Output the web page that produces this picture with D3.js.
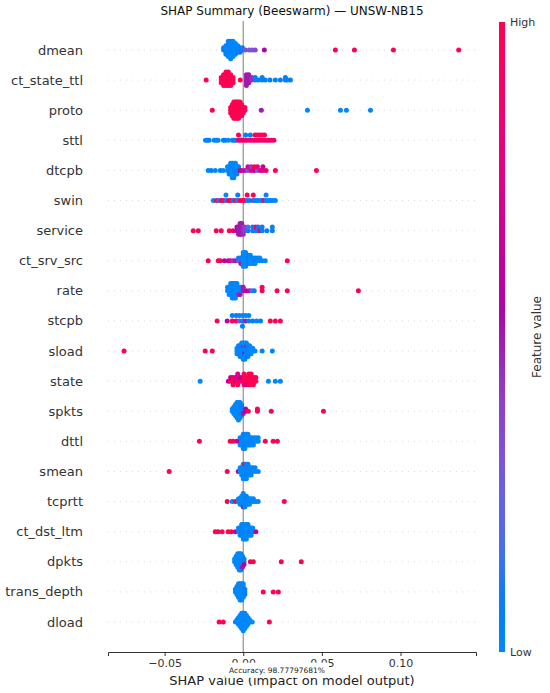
<!DOCTYPE html>
<html>
<head>
<meta charset="utf-8">
<script src="https://cdn.jsdelivr.net/npm/d3@7"></script>
<style>
  body { margin: 0; background: #fff; }
  text { font-family: "DejaVu Sans", sans-serif; }
</style>
</head>
<body>
<svg id="chart" width="550" height="693"></svg>
<script>
// feature order, top to bottom
const features = ["dmean", "ct_state_ttl", "proto", "sttl", "dtcpb", "swin", "service",
  "ct_srv_src", "rate", "stcpb", "sload", "state", "spkts", "dttl", "smean", "tcprtt",
  "ct_dst_ltm", "dpkts", "trans_depth", "dload"];

// each point: [shap value, normalised feature value 0..1]
const dmean = [
  [-0.0125,0.05],[-0.0125,0.1],
  [-0.011,0.05],[-0.011,0],[-0.011,0.05],[-0.011,0],[-0.011,0.05],
  [-0.0095,0],[-0.0095,0],[-0.0095,0.05],[-0.0095,0],[-0.0095,0],[-0.0095,0.05],[-0.0095,0],[-0.0095,0],
  [-0.008,0],[-0.008,0],[-0.008,0],[-0.008,0.05],[-0.008,0],[-0.008,0],[-0.008,0],[-0.008,0.05],[-0.008,0],
  [-0.0065,0],[-0.0065,0],[-0.0065,0.05],[-0.0065,0],[-0.0065,0],[-0.0065,0],[-0.0065,0],[-0.0065,0],
  [-0.005,0],[-0.005,0],[-0.005,0.05],[-0.005,0],[-0.005,0],[-0.005,0],
  [-0.0035,0.05],[-0.0035,0],[-0.0035,0.05],[-0.0035,0],
  [-0.002,0.1],[-0.002,0.05],[-0.002,0.1],
  [-0.0005,0.1],[-0.0005,0.1],
  [0.0013,0.3],[0.0038,0.3],[0.0057,0.3],[0.0076,0.35],[0.0134,0.55],
  [0.0586,1],[0.0707,1],[0.0955,1],[0.137,1]
];
const ct_state_ttl = [
  [-0.0236,1],
  [-0.014,1],[-0.014,1],[-0.014,1],
  [-0.0125,1],[-0.0125,1],[-0.0125,1],[-0.0125,1],[-0.0125,1],
  [-0.011,1],[-0.011,1],[-0.011,1],[-0.011,1],[-0.011,1],[-0.011,1],
  [-0.0095,1],[-0.0095,1],[-0.0095,1],[-0.0095,1],[-0.0095,1],[-0.0095,1],
  [-0.008,1],[-0.008,1],[-0.008,1],[-0.008,1],[-0.008,1],
  [-0.0065,1],[-0.0065,1],[-0.0065,1],
  [-0.0019,1],
  [0.002,0.5],[0.002,0.5],[0.002,0.5],[0.002,0.5],[0.002,0.5],
  [0.0035,0.5],[0.0035,0.5],[0.0035,0.5],[0.0035,0.5],
  [0.0055,0.45],[0.0055,0.45],
  [0.0076,0.1],[0.0076,0.05],[0.0095,0.05],[0.012,0.05],[0.012,0.05],[0.014,0.05],
  [0.017,0.05],[0.0204,0.05],[0.0236,0.05],[0.0268,0.05],[0.0268,0.05],[0.028,0.05],[0.030,0.05]
];
const proto = [
  [-0.0197,1],
  [-0.008,1],[-0.008,1],[-0.008,1],
  [-0.007,1],[-0.007,1],[-0.007,1],[-0.007,1],[-0.007,1],
  [-0.006,1],[-0.006,1],[-0.006,1],[-0.006,1],[-0.006,1],[-0.006,1],[-0.006,1],
  [-0.005,1],[-0.005,1],[-0.005,1],[-0.005,1],[-0.005,1],[-0.005,1],[-0.005,1],
  [-0.004,1],[-0.004,1],[-0.004,1],[-0.004,1],[-0.004,1],[-0.004,1],[-0.004,1],
  [-0.003,1],[-0.003,1],[-0.003,1],[-0.003,1],[-0.003,1],[-0.003,1],[-0.003,1],
  [-0.002,1],[-0.002,1],[-0.002,1],[-0.002,1],[-0.002,1],[-0.002,1],
  [-0.001,1],[-0.001,1],[-0.001,1],[-0.001,1],[-0.001,1],
  [0,1],[0,1],[0,1],
  [0.001,1],[0.001,1],
  [0.0115,0.5],[0.0408,0],[0.0618,0],[0.0656,0],[0.0809,0]
];
const sttl = [
  [-0.024,0],[-0.023,0],[-0.0217,0.05],[-0.0185,0],[-0.017,0.05],[-0.016,0],
  [-0.0127,0],[-0.0115,0.05],[-0.0096,0],[-0.007,0],[-0.0057,0.05],[-0.0045,0.1],
  [-0.003,0.9],[-0.003,1],[-0.0015,0.85],[0,0.9],[0.0015,0.8],[0.0015,0.05],
  [0.003,0.9],[0.0045,0.85],[0.0045,0.05],[0.006,0.9],[0.0075,0.85],[0.0075,1],
  [0.009,0.9],[0.009,1],[0.0105,0.85],[0.0105,1],[0.012,0.9],[0.012,1],
  [0.0135,0.85],[0.0135,1],[0.015,0.9],[0.0165,0.85],[0.018,0.9],[0.0195,0.9]
];
const dtcpb = [
  [-0.0223,0],[-0.0204,0.05],[-0.0178,0],[-0.0146,0.05],[-0.0127,0],
  [-0.010,0],[-0.010,0],
  [-0.009,0],[-0.009,0],[-0.009,0],
  [-0.008,0.05],[-0.008,0],[-0.008,0.05],[-0.008,0],
  [-0.007,0],[-0.007,0],[-0.007,0],[-0.007,0],[-0.007,0],
  [-0.006,0],[-0.006,0],[-0.006,0],[-0.006,0],[-0.006,0],
  [-0.005,0.1],[-0.005,0],[-0.005,0.1],[-0.005,0],
  [-0.004,0],[-0.004,0],[-0.004,0],
  [-0.003,0.05],[-0.003,0.05],
  [-0.002,0.6],[-0.001,0.7],[0.001,0.5],[0.003,0.3],[0.003,0.7],[0.005,0.8],[0.005,0.4],
  [0.007,0.6],[0.007,1],[0.009,0.2],[0.009,0.8],[0.011,0.7],[0.0125,0.9],[0.0125,0.6],
  [0.0145,0.8],[0.0204,1],[0.0465,1]
];
const swin = [
  [-0.019,0],[-0.017,1],[-0.0155,0],[-0.014,1],[-0.0125,0.95],[-0.011,0],[-0.011,0],
  [-0.0095,1],[-0.008,1],[-0.0065,0.05],[-0.005,1],[-0.0035,0],[-0.0035,0.05],
  [-0.002,1],[-0.0005,0.95],[0.001,1],[0.0025,0.05],[0.0025,1],[0.004,0.1],
  [0.0064,1],[0.0064,1],[0.007,0],[0.0085,0.05],[0.010,0],[0.0115,0],[0.013,0.9],
  [0.0145,0],[0.0145,0],[0.016,0],[0.0175,0.05],[0.019,0],[0.0204,0]
];
const service = [
  [-0.0318,1],[-0.0286,1],[-0.0172,1],[-0.014,1],[-0.0089,1],[-0.0064,0.8],
  [-0.004,0.55],[-0.004,0.55],
  [-0.003,0.5],[-0.003,0.5],[-0.003,0.5],
  [-0.002,0.5],[-0.002,0.5],[-0.002,0.5],[-0.002,0.5],
  [-0.001,0.5],[-0.001,0.5],[-0.001,0.5],[-0.001,0.5],
  [0,0.45],[0,0.45],[0,0.45],
  [0.001,0.4],[0.001,0.4],
  [0.003,0.1],[0.003,0.2],[0.006,0.05],[0.006,0.1],[0.008,0.1],[0.008,1],
  [0.0095,0.05],[0.0095,0.1],[0.0105,0.9],[0.012,0.05],[0.012,0.1],[0.015,0.05],
  [0.0185,0.05],[0.0185,0.1]
];
const ct_srv_src = [
  [-0.0223,1],[-0.0159,1],[-0.0146,1],[-0.012,0.6],[-0.0095,0.55],[-0.008,0.8],
  [-0.0065,0.4],[-0.005,0.5],
  [-0.003,0.3],[-0.003,0.1],
  [-0.0015,0.2],[-0.0015,0.05],[-0.0015,0.5],
  [0,0],[0,0],[0,0],[0,0],[0,0],[0,0],
  [0.0015,0],[0.0015,0],[0.0015,0],[0.0015,0],[0.0015,0],[0.0015,0],
  [0.003,0.05],[0.003,0.05],[0.003,0.05],[0.003,0.05],
  [0.0045,0],[0.0045,0],[0.0045,0],[0.0045,0],
  [0.006,0],[0.006,0],[0.006,0],
  [0.0075,0.05],[0.0075,0.05],[0.0075,0.05],
  [0.009,0],[0.009,0],[0.0105,0],[0.0105,0],[0.012,0],[0.014,0],[0.028,1]
];
const rate = [
  [-0.010,0],[-0.010,0],
  [-0.009,0],[-0.009,0],[-0.009,0],
  [-0.008,0],[-0.008,0],[-0.008,0],[-0.008,0],
  [-0.007,0],[-0.007,0],[-0.007,0],[-0.007,0],[-0.007,0],
  [-0.006,0.05],[-0.006,0.05],[-0.006,0.05],[-0.006,0.05],[-0.006,0.05],
  [-0.005,0],[-0.005,0],[-0.005,0],[-0.005,0],[-0.005,0],
  [-0.004,0],[-0.004,0],[-0.004,0],[-0.004,0],
  [-0.003,0],[-0.003,0],[-0.003,0.45],
  [-0.002,0],[-0.002,0],[-0.002,0.5],
  [-0.001,0.1],[-0.001,0.1],
  [0,0.5],[0,0.5],
  [0.002,0.6],[0.004,0.5],[0.0055,0.2],[0.007,0.1],
  [0.012,1],[0.012,1],[0.0215,1],[0.028,1],[0.0732,1]
];
const stcpb = [
  [-0.0166,1],[-0.0102,0.55],[-0.007,1],[-0.007,0.05],[-0.0045,0.9],[-0.0045,0.05],
  [-0.0025,0.3],[-0.0025,0],[-0.0005,0.1],[-0.0005,0],[-0.0005,0.05],
  [0.0015,0.5],[0.0015,0],[0.0035,0.05],[0.0035,0],[0.006,0.05],[0.0085,0],[0.011,0.05],
  [0.0172,1],[0.0204,1],[0.0236,1]
];
const sload = [
  [-0.0758,1],[-0.0242,1],[-0.0197,1],
  [-0.004,0],[-0.004,0],[-0.004,0],
  [-0.003,0],[-0.003,0],[-0.003,0],[-0.003,0],
  [-0.002,0.05],[-0.002,0.05],[-0.002,0.05],[-0.002,0.05],[-0.002,0.05],
  [-0.001,0],[-0.001,0],[-0.001,0],[-0.001,0],[-0.001,0],[-0.001,0],
  [0,0],[0,0],[0,0],[0,0.5],[0,0],[0,0],[0,0],
  [0.001,0],[0.001,0],[0.001,0.55],[0.001,0],[0.001,0],[0.001,0],[0.001,0],
  [0.002,0],[0.002,0],[0.002,0],[0.002,0.5],[0.002,0],[0.002,0],
  [0.003,0.05],[0.003,0.05],[0.003,0.05],[0.003,0.05],[0.003,0.05],
  [0.004,0],[0.004,0],[0.004,0],[0.004,0],
  [0.005,0],[0.005,0],[0.005,0],
  [0.006,0],[0.006,0],
  [0.0075,0],[0.012,0],[0.0185,0]
];
const state = [
  [-0.0274,0],
  [-0.0095,0.6],[-0.008,1],[-0.008,0.6],
  [-0.0065,1],[-0.0065,1],[-0.0065,1],
  [-0.005,0.7],[-0.005,0.75],
  [-0.0035,1],[-0.0035,0.7],[-0.0035,1],[-0.0035,0.8],
  [-0.0015,0.9],[-0.0015,0.6],
  [0.0005,1],[0.0005,1],[0.0005,1],[0.0005,1],
  [0.002,0.9],[0.002,1],[0.002,0.7],
  [0.0035,1],[0.0035,1],[0.0035,1],[0.0035,1],
  [0.005,1],[0.005,1],[0.005,1],[0.005,1],
  [0.0065,1],[0.0065,1],[0.0065,1],
  [0.008,1],[0.008,1],
  [0.016,0],[0.0204,0],[0.0236,0]
];
const spkts = [
  [-0.007,0],[-0.007,0],
  [-0.006,0],[-0.006,0],[-0.006,0],[-0.006,0],
  [-0.005,0],[-0.005,0],[-0.005,0],[-0.005,0],[-0.005,0],[-0.005,0],
  [-0.004,0],[-0.004,0],[-0.004,0],[-0.004,0],[-0.004,0],[-0.004,0],[-0.004,0],[-0.004,0],
  [-0.003,0],[-0.003,0],[-0.003,0],[-0.003,0],[-0.003,0],[-0.003,0],[-0.003,0],[-0.003,0],[-0.003,0],
  [-0.002,0],[-0.002,0],[-0.002,0],[-0.002,0],[-0.002,0],[-0.002,0],[-0.002,0],[-0.002,0],
  [-0.001,0.05],[-0.001,0.05],[-0.001,0.05],[-0.001,0.05],[-0.001,0.05],[-0.001,0.05],
  [0,0.1],[0,0.1],[0,0.5],
  [0.0015,0.55],[0.0015,0.55],
  [0.0032,1],[0.009,1],[0.009,1],[0.0178,1],[0.051,1]
];
const dttl = [
  [-0.0279,1],[-0.0083,1],[-0.0064,1],[-0.004,0.6],
  [-0.002,0.55],[-0.002,0.05],[-0.002,0],
  [-0.001,0],[-0.001,0],[-0.001,0],
  [0,0],[0,0],[0,0],[0,0],[0,0],
  [0.001,0.05],[0.001,0.05],[0.001,0.05],[0.001,0.05],[0.001,0.05],
  [0.002,0],[0.002,0],[0.002,0],[0.002,0],
  [0.003,0],[0.003,0],[0.003,0],[0.003,0],
  [0.004,0.05],[0.004,0.05],[0.004,0.05],
  [0.005,0],[0.005,0],[0.005,0],
  [0.0065,0],[0.0065,0],[0.0065,0],
  [0.008,0],[0.008,0],[0.0095,0],[0.0095,0],
  [0.014,1],[0.019,1],[0.0217,1]
];
const smean = [
  [-0.0471,1],[-0.0102,1],[-0.0032,0.55],
  [-0.002,0],[-0.002,0],
  [-0.001,0],[-0.001,0],[-0.001,0],
  [0,0],[0,0],[0,0],[0,0],[0,0],
  [0.001,0],[0.001,0],[0.001,0],[0.001,1],[0.001,0],
  [0.002,0],[0.002,0],[0.002,0],[0.002,0],[0.002,0],
  [0.003,0.05],[0.003,0.05],[0.003,0.05],[0.003,0.05],
  [0.004,0],[0.004,0],[0.004,0],
  [0.005,0],[0.005,0],[0.005,0],
  [0.006,0],[0.006,0],[0.0075,0],[0.0075,0],[0.0095,0]
];
const tcprtt = [
  [-0.0102,1],[-0.007,0],[-0.005,1],
  [-0.003,0],[-0.003,0],
  [-0.002,0],[-0.002,0],[-0.002,0],
  [-0.001,0],[-0.001,0],[-0.001,0],[-0.001,0],
  [0,0],[0,0],[0,0],[0,0],[0,0.5],[0,0],
  [0.001,0],[0.001,0],[0.001,0],[0.001,0],[0.001,0],
  [0.002,0.05],[0.002,0.05],[0.002,0.05],[0.002,0.05],
  [0.003,0],[0.003,0],[0.003,0],
  [0.004,0],[0.004,0],[0.004,0],
  [0.005,0],[0.005,0],[0.0065,0],[0.0065,0],[0.008,0],[0.0095,0],
  [0.0261,1]
];
const ct_dst_ltm = [
  [-0.0178,1],[-0.016,1],[-0.0134,1],[-0.0096,1],[-0.0076,1],[-0.005,0.6],
  [-0.003,0],[-0.003,0],
  [-0.002,0],[-0.002,0],[-0.002,0],
  [-0.001,0.05],[-0.001,0.05],[-0.001,0.05],[-0.001,0.05],
  [0,0],[0,0],[0,0],[0,0],[0,0],
  [0.001,0],[0.001,0],[0.001,0],[0.001,0],[0.001,0],
  [0.002,0],[0.002,0],[0.002,0],[0.002,0],[0.002,0],
  [0.003,0],[0.003,0],[0.003,0],[0.003,0],
  [0.004,0.05],[0.004,0.05],[0.004,0.05],
  [0.005,0],[0.005,0],[0.005,0],
  [0.006,0],[0.006,0],[0.008,0.6]
];
const dpkts = [
  [-0.0055,0],[-0.0055,0],
  [-0.0045,0],[-0.0045,0],[-0.0045,0],[-0.0045,0],
  [-0.0035,0],[-0.0035,0],[-0.0035,0],[-0.0035,0],[-0.0035,0],[-0.0035,0],
  [-0.0025,0],[-0.0025,0],[-0.0025,0],[-0.0025,0],[-0.0025,0],[-0.0025,0],[-0.0025,0],
  [-0.0015,0],[-0.0015,0],[-0.0015,0],[-0.0015,0],[-0.0015,0],[-0.0015,0],[-0.0015,0],
  [-0.0005,0],[-0.0005,0],[-0.0005,0],[-0.0005,0],[-0.0005,0.5],
  [0.0005,0.05],[0.0005,0.05],[0.0005,0.55],
  [0.0045,1],[0.0064,1],[0.0242,1],[0.0369,1]
];
const trans_depth = [
  [-0.005,0],[-0.005,0],
  [-0.004,0],[-0.004,0],[-0.004,0],[-0.004,0],
  [-0.003,0],[-0.003,0],[-0.003,0],[-0.003,0],[-0.003,0],[-0.003,0],
  [-0.002,0],[-0.002,0],[-0.002,0],[-0.002,0],[-0.002,0],[-0.002,0],[-0.002,0],
  [-0.001,0],[-0.001,0],[-0.001,0],[-0.001,0],[-0.001,0],[-0.001,0],[-0.001,0],
  [0,0],[0,0],[0,0],[0,0],[0,0],[0,0],
  [0.001,0.05],[0.001,0.05],[0.001,0.05],
  [0.0127,1],[0.0191,1],[0.0223,1]
];
const dload = [
  [-0.0153,1],[-0.0127,1],[-0.005,0],
  [-0.004,0],[-0.004,0],
  [-0.003,0],[-0.003,0],[-0.003,0],[-0.003,0],
  [-0.002,0],[-0.002,0],[-0.002,0],[-0.002,0],[-0.002,0],[-0.002,0],
  [-0.001,0],[-0.001,0],[-0.001,0],[-0.001,0],[-0.001,0],[-0.001,0],[-0.001,0],[-0.001,0],
  [0,0],[0,0],[0,0],[0,0],[0,0],[0,0],[0,0],[0,0],[0,0],
  [0.001,0],[0.001,0],[0.001,0],[0.001,0],[0.001,0],[0.001,0],[0.001,0],[0.001,0],
  [0.002,0],[0.002,0],[0.002,0],[0.002,0],[0.002,0],[0.002,0],
  [0.003,0],[0.003,0],[0.003,0],[0.003,0],
  [0.004,0],[0.004,0],
  [0.0057,0],[0.0166,1]
];

const rows = [dmean, ct_state_ttl, proto, sttl, dtcpb, swin, service, ct_srv_src, rate,
  stcpb, sload, state, spkts, dttl, smean, tcprtt, ct_dst_ltm, dpkts, trans_depth, dload];

const xTicks = [-0.05, 0, 0.05, 0.1];
const title = "SHAP Summary (Beeswarm) — UNSW-NB15";
const xLabel = "SHAP value (impact on model output)";
const accuracyNote = "Accuracy: 98.77797681%";

const svg = d3.select("#chart");

const x = d3.scaleLinear().domain([-0.086, 0.148]).range([108, 476]);
const y = d3.scalePoint().domain(features).range([50, 622]);
const step = y.step();
const plotTop = 21, plotBottom = 652;

// shap red_blue map: lch blend, lightness dips to 40 in the middle
const color = t => {
  const l = t < 0.5 ? 54 - 28 * t : 40 + 28 * (t - 0.5);
  const c = 70 + 20 * t;
  const h = 266.93 + 113.39 * t;
  return d3.lch(l, c, h).formatHex();
};

// same stacking as shap's summary plot: 100 bins, alternate up / down
const swarm = pts => {
  const vals = pts.map(p => p[0]);
  const lo = d3.min(vals), hi = d3.max(vals);
  const quant = vals.map(v => Math.round(100 * (v - lo) / (hi - lo)));
  const order = d3.range(pts.length).sort((a, b) => quant[a] - quant[b] || a - b);
  const ys = new Array(pts.length).fill(0);
  let layer = 0, last = -1;
  order.forEach(i => {
    if (quant[i] !== last) layer = 0;
    ys[i] = Math.ceil(layer / 2) * ((layer % 2) * 2 - 1);
    layer++;
    last = quant[i];
  });
  const m = d3.max(ys) + 1;
  return ys.map(v => v * 0.36 / m);
};

// dotted row guides
svg.append("g")
  .selectAll("line")
  .data(features)
  .join("line")
  .attr("x1", x.range()[0])
  .attr("x2", x.range()[1])
  .attr("y1", d => y(d))
  .attr("y2", d => y(d))
  .attr("stroke", "#cccccc")
  .attr("stroke-width", 0.7)
  .attr("stroke-dasharray", "1,5");

// zero line
svg.append("line")
  .attr("x1", x(0)).attr("x2", x(0))
  .attr("y1", plotTop).attr("y2", plotBottom)
  .attr("stroke", "#999999")
  .attr("stroke-width", 1.3);

// points
const dots = svg.append("g");
rows.forEach((pts, r) => {
  const offs = swarm(pts);
  dots.selectAll(null)
    .data(pts.map((p, i) => ({ s: p[0], f: p[1], o: offs[i] })))
    .enter()
    .append("circle")
    .attr("cx", d => x(d.s))
    .attr("cy", d => y(features[r]) - d.o * step)
    .attr("r", 2.5)
    .attr("fill", d => color(d.f));
});

// feature labels
svg.append("g")
  .selectAll("text")
  .data(features)
  .join("text")
  .attr("x", 83)
  .attr("y", d => y(d))
  .attr("dy", "0.35em")
  .attr("text-anchor", "end")
  .attr("font-size", 13)
  .attr("fill", "#333")
  .text(d => d);

// x axis
const xAxis = svg.append("g")
  .attr("transform", `translate(0,${plotBottom})`)
  .call(d3.axisBottom(x).tickValues(xTicks).tickSize(4).tickPadding(3)
    .tickFormat(d => d3.format(".2f")(d).replace("-", "\u2212")));
xAxis.select(".domain").attr("stroke", "#333").attr("stroke-width", 1);
xAxis.selectAll(".tick line").attr("stroke", "#333");
xAxis.selectAll(".tick text")
  .attr("font-size", 11)
  .attr("fill", "#333")
  .attr("font-family", "DejaVu Sans, sans-serif");

svg.append("text")
  .attr("x", (x.range()[0] + x.range()[1]) / 2)
  .attr("y", 685)
  .attr("text-anchor", "middle")
  .attr("font-size", 13)
  .attr("fill", "#222")
  .text(xLabel);

// accuracy note on a white box, as in the reference
const noteBox = svg.append("rect").attr("fill", "#fff");
const note = svg.append("text")
  .attr("x", 277)
  .attr("y", 670)
  .attr("dy", "0.35em")
  .attr("text-anchor", "middle")
  .attr("font-size", 7.5)
  .attr("fill", "#222")
  .text(accuracyNote);
const bb = note.node().getBBox();
noteBox
  .attr("x", bb.x - 4)
  .attr("y", bb.y - 3)
  .attr("width", bb.width + 8)
  .attr("height", bb.height + 6);

// title
svg.append("text")
  .attr("x", (x.range()[0] + x.range()[1]) / 2)
  .attr("y", 15)
  .attr("text-anchor", "middle")
  .attr("font-size", 12)
  .attr("fill", "#111")
  .text(title);

// colour bar
const grad = svg.append("defs").append("linearGradient")
  .attr("id", "cbar")
  .attr("x1", 0).attr("y1", 1).attr("x2", 0).attr("y2", 0);
d3.range(0, 1.0001, 0.05).forEach(t => {
  grad.append("stop")
    .attr("offset", t)
    .attr("stop-color", color(t));
});
svg.append("rect")
  .attr("x", 499)
  .attr("y", 22)
  .attr("width", 6)
  .attr("height", plotBottom - 22)
  .attr("fill", "url(#cbar)");

svg.append("text")
  .attr("x", 510).attr("y", 26)
  .attr("font-size", 11).attr("fill", "#333")
  .text("High");
svg.append("text")
  .attr("x", 510).attr("y", 656)
  .attr("font-size", 11).attr("fill", "#333")
  .text("Low");
svg.append("text")
  .attr("transform", "translate(541,337) rotate(-90)")
  .attr("text-anchor", "middle")
  .attr("font-size", 12)
  .attr("fill", "#333")
  .text("Feature value");
</script>
</body>
</html>
